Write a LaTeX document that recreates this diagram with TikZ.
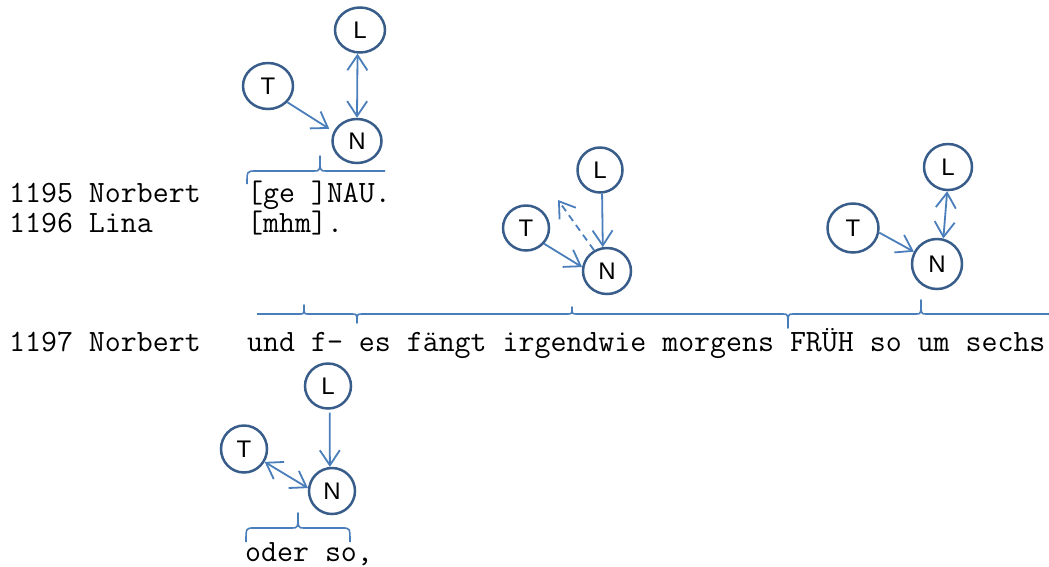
\documentclass[tikz,border=0pt]{standalone}
\usepackage{fontspec}
\setsansfont{Liberation Sans}
\usetikzlibrary{arrows.meta,shapes.geometric}
\definecolor{ringblue}{HTML}{385D8A}
\definecolor{linkblue}{HTML}{4A7EBB}
\tikzset{
  role/.style={ellipse, draw=ringblue, line width=2.5pt, minimum width=48pt,
    minimum height=46pt, inner sep=0pt, text=black,
    font=\sffamily\fontsize{24}{24}\selectfont},
  barb/.tip={Straight Barb[length=15pt,width=20pt]},
  link/.style={draw=linkblue, line width=1.8pt, -barb},
  duo/.style={draw=linkblue, line width=1.8pt, barb-barb},
  brace/.style={draw=linkblue, line width=1.6pt, line join=round},
  tline/.style={font=\ttfamily\fontsize{31}{34}\selectfont, anchor=base west,
    inner sep=0pt, text=black},
}
\begin{document}
\begin{tikzpicture}[x=1pt, y=-1pt]
\useasboundingbox (0,0) rectangle (1049,566);

% transcript lines
\node[tline] (s1195) at (9,202) {1195 Norbert};
\node[tline] (u1195) at (247,202) {[ge ]NAU.};
\node[tline] (s1196) at (9,232) {1196 Lina};
\node[tline] (u1196) at (247,232) {[mhm].};
\node[tline] (s1197) at (9,351) {1197 Norbert};
\node[tline] (u1197) at (247,351) {und f- es fängt irgendwie morgens FRÜH so um sechs};
\node[tline] (u1197b) at (245,561) {oder so,};

% group above "[ge ]NAU."
\node[role, minimum width=50pt, minimum height=45pt] (L1) at (360,30) {L};
\node[role, minimum width=50pt, minimum height=46pt] (T1) at (268,86) {T};
\node[role, minimum width=49pt, minimum height=44pt] (N1) at (357,141) {N};
\draw[duo] (L1.-96) -- (N1.90);
\draw[link, shorten >=5pt] (T1.-40) -- (N1.158);
\draw[brace] (247,184) .. controls (247,171) .. (256,171) -- (314,171)
  .. controls (320,171) .. (320,156) .. controls (320,171) .. (326,171) -- (385,171);

% group above "es fängt irgendwie morgens"
\node[role, minimum width=45pt, minimum height=45pt] (L2) at (600,170) {L};
\node[role, minimum width=46pt, minimum height=45pt] (T2) at (526,228) {T};
\node[role, minimum width=48pt, minimum height=46pt] (N2) at (607,271) {N};
\draw[link] (L2.-85) -- (N2.100);
\draw[link] (T2.-41) -- (N2.171);
\coordinate (d2) at (558,200);
\draw[link, dash pattern=on 7pt off 5pt] (N2.122) -- (d2);

% group above "FRÜH so um sechs"
\node[role, minimum width=48pt, minimum height=46pt] (L3) at (948,167) {L};
\node[role, minimum width=51pt, minimum height=49pt] (T3) at (853,228) {T};
\node[role, minimum width=50pt, minimum height=50pt] (N3) at (937,264) {N};
\draw[duo] (L3.-92) -- (N3.76);
\draw[link] (T3.-10) -- (N3.152);

% brace row over line 1197
\draw[brace] (257,314) -- (300,314) .. controls (304,314) .. (304,305)
  .. controls (304,314) .. (308,314) -- (352,314)
  .. controls (357,314) .. (357,323) .. controls (357,314) .. (362,314) -- (567,314)
  .. controls (572,314) .. (572,307) .. controls (572,314) .. (577,314) -- (783,314)
  .. controls (788,314) .. (788,328) .. controls (788,314) .. (793,314) -- (916,314)
  .. controls (921,314) .. (921,300) .. controls (921,314) .. (926,314) -- (1049,314);

% group above "oder so,"
\node[role, minimum width=46pt, minimum height=45pt] (L4) at (328,386) {L};
\node[role, minimum width=46pt, minimum height=47pt] (T4) at (244,449) {T};
\node[role, minimum width=46pt, minimum height=46pt] (N4) at (332,491) {N};
\draw[link, shorten <=3pt] (L4.-86) -- (N4.95);
\draw[duo] (T4.-32) -- (N4.173);
\draw[brace] (246,542) .. controls (246,528) .. (254,528) -- (292,528)
  .. controls (298,528) .. (298,513) .. controls (298,528) .. (304,528) -- (342,528)
  .. controls (350,528) .. (350,542);
\end{tikzpicture}
\end{document}
